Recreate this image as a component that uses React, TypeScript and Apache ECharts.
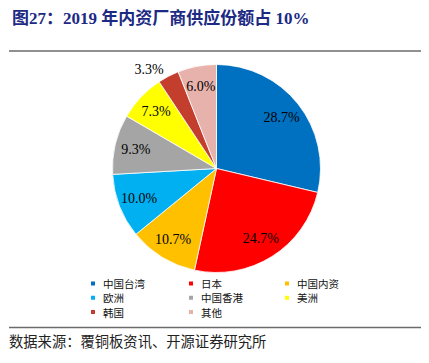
import React, { useEffect, useRef } from "react";
import * as echarts from "echarts";

const categories = ["中国台湾", "日本", "中国内资", "欧洲", "中国香港", "美洲", "韩国", "其他"];
const shares = [28.7, 24.7, 10.7, 10.0, 9.3, 7.3, 3.3, 6.0];
const colors = ["#0070C0", "#FF0000", "#FFC000", "#00B0F0", "#A5A5A5", "#FFFF00", "#C43E2E", "#E8B2AC"];
const legendColumns = [
  ["中国台湾", "欧洲", "韩国"],
  ["日本", "中国香港", "其他"],
  ["中国内资", "美洲"],
];
const outsideLabels = ["韩国"];
const titleText = "图27：2019 年内资厂商供应份额占 10%";
const sourceText = "数据来源：覆铜板资讯、开源证券研究所";

const serif = "'Liberation Serif', 'Times New Roman', 'Noto Sans CJK SC', serif";
const cjk = "'Noto Sans CJK SC', 'Liberation Serif', serif";

export default function App() {
  const ref = useRef<HTMLDivElement>(null);
  useEffect(() => {
    document.body.style.margin = "0";
    const chart = echarts.init(ref.current!, null, { renderer: "svg" });
    const pieData = categories.map((name, i) => ({
      name,
      value: shares[i],
      itemStyle: { color: colors[i] },
    }));
    const labelData = categories.map((name, i) => {
      const outside = outsideLabels.includes(name);
      return {
        name,
        value: shares[i],
        label: outside
          ? { position: "outside", distanceToLabelLine: 1 }
          : { position: "inside" },
        labelLine: { show: false, length: 8, length2: 0 },
      };
    });
    const legendX = [89, 187, 283];
    chart.setOption({
      animation: false,
      title: {
        text: titleText,
        left: 7,
        top: 5,
        textStyle: {
          fontFamily: serif,
          fontWeight: "bold",
          fontSize: 17,
          color: "#1C2A84",
        },
      },
      legend: legendColumns.map((col, k) => ({
        orient: "vertical",
        left: legendX[k],
        top: 276.5,
        padding: 0,
        itemGap: 0,
        itemWidth: 6,
        itemHeight: 6,
        icon: "rect",
        data: col,
        textStyle: {
          fontFamily: cjk,
          fontSize: 10.5,
          lineHeight: 14.2,
          color: "#111",
          padding: [0, 0, 0, 2],
        },
      })),
      graphic: [
        {
          type: "line",
          shape: { x1: 9, y1: 51, x2: 421, y2: 51 },
          style: { stroke: "#6b6b6b", lineWidth: 1.6 },
        },
        {
          type: "line",
          shape: { x1: 9, y1: 327.5, x2: 421, y2: 327.5 },
          style: { stroke: "#6b6b6b", lineWidth: 1.6 },
        },
        {
          type: "text",
          left: 9,
          top: 333,
          style: {
            text: sourceText,
            font: "14.3px " + cjk,
            fill: "#222",
          },
        },
      ],
      series: [
        {
          type: "pie",
          center: [216.5, 168.5],
          radius: [0, 104],
          startAngle: 90,
          clockwise: true,
          silent: true,
          label: { show: false },
          labelLine: { show: false },
          itemStyle: { borderColor: "#fff", borderWidth: 0.8 },
          emphasis: { disabled: true },
          data: pieData,
        },
        {
          type: "pie",
          center: [216.5, 168.5],
          radius: [56, 104],
          startAngle: 90,
          clockwise: true,
          silent: true,
          z: 5,
          itemStyle: { color: "rgba(0,0,0,0)", borderWidth: 0 },
          emphasis: { disabled: true },
          avoidLabelOverlap: false,
          label: {
            show: true,
            formatter: (p: any) => Number(p.value).toFixed(1) + "%",
            fontFamily: serif,
            fontSize: 14,
            color: "#000",
          },
          data: labelData,
        },
      ],
    });
    return () => chart.dispose();
  }, []);
  return <div ref={ref} style={{ width: 429, height: 363 }} />;
}
